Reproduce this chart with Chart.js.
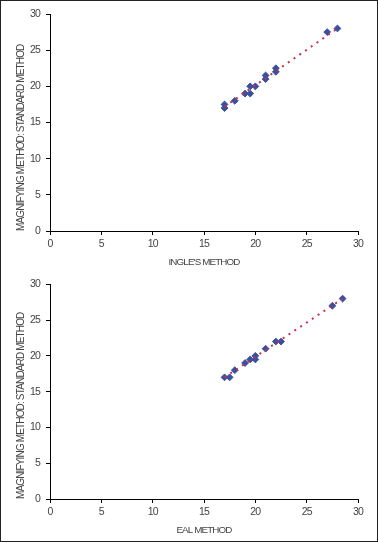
<!DOCTYPE html>
<html>
<head>
<meta charset="utf-8">
<script src="https://cdn.jsdelivr.net/npm/chart.js@4"></script>
<style>
  html, body { margin: 0; padding: 0; background: #fff; }
  #frame { position: relative; width: 378px; height: 542px; box-sizing: border-box; border: 1px solid #222; }
  canvas { position: absolute; left: 0; }
  #topChart { top: 0; }
  #bottomChart { top: 271px; }
</style>
</head>
<body>
<div id="frame">
  <canvas id="topChart" width="378" height="271"></canvas>
  <canvas id="bottomChart" width="378" height="271"></canvas>
</div>
<script>
// Ingle's method vs standard method
const ingleX = [17, 17, 18, 19, 19.5, 19.5, 20, 21, 21, 22, 22, 27, 28];
const ingleY = [17, 17.5, 18, 19, 19, 20, 20, 21, 21.5, 22, 22.5, 27.5, 28];
const ingleTrendX = [17, 28];
const ingleTrendY = [17.2, 28];

// EAL method vs standard method
const ealX = [17, 17.5, 18, 19, 19.5, 20, 20, 21, 22, 22.5, 27.5, 28.5];
const ealY = [17, 17, 18, 19, 19.5, 19.5, 20, 21, 22, 22, 27, 28];
const ealTrendX = [17, 28.5];
const ealTrendY = [17, 28];

const axisTicks = [0, 5, 10, 15, 20, 25, 30];
const yTitle = "MAGNIFYING METHOD: STANDARD METHOD";

const FONT = '"Liberation Sans", Arial, sans-serif';
const TEXT = "#444";

// squeeze the text a little, the original uses a narrow face
const narrowText = {
  id: "narrowText",
  beforeUpdate: c => { c.ctx.letterSpacing = "-0.85px"; },
  beforeDraw: c => { c.ctx.letterSpacing = "-0.85px"; }
};

function pts(xs, ys) {
  return xs.map((x, i) => ({ x, y: ys[i] }));
}

function makeChart(id, xs, ys, tx, ty, xTitle, pad) {
  const ctx = document.getElementById(id).getContext("2d");
  return new Chart(ctx, {
    type: "scatter",
    plugins: [narrowText],
    data: {
      datasets: [{
        data: pts(tx, ty),
        showLine: true,
        borderColor: "#c4304e",
        borderWidth: 2,
        borderDash: [2, 5],
        pointRadius: 0,
        order: 0
      }, {
        data: pts(xs, ys),
        pointStyle: "rectRot",
        pointRadius: 3.4,
        backgroundColor: "#3b4f9e",
        borderColor: "#3b4f9e",
        borderWidth: 1,
        order: 1
      }]
    },
    options: {
      responsive: false,
      animation: false,
      layout: { padding: { left: 0, right: 21, top: pad.top, bottom: 0 } },
      plugins: { legend: { display: false }, tooltip: { enabled: false } },
      scales: {
        x: {
          type: "linear",
          min: 0, max: 30,
          afterBuildTicks: s => { s.ticks = axisTicks.map(v => ({ value: v })); },
          afterFit: s => { s.height = pad.xh; },
          grid: { drawOnChartArea: false, tickLength: 4, tickColor: "#000" },
          border: { color: "#000", width: 1 },
          ticks: { color: TEXT, font: { family: FONT, size: 10.5 }, padding: 3, maxRotation: 0 },
          title: { display: true, text: xTitle, color: TEXT, font: { family: FONT, size: 9.8 }, padding: { top: 0, bottom: pad.tb } }
        },
        y: {
          type: "linear",
          min: 0, max: 30,
          afterBuildTicks: s => { s.ticks = axisTicks.map(v => ({ value: v })); },
          afterFit: s => { s.width = 49; },
          grid: { drawOnChartArea: false, tickLength: 4, tickColor: "#000" },
          border: { color: "#000", width: 1 },
          ticks: { color: TEXT, font: { family: FONT, size: 10.5 }, padding: 6 },
          title: { display: true, text: yTitle, align: "start", color: TEXT, font: { family: FONT, size: 10 }, padding: { top: 14, bottom: 0 } }
        }
      }
    }
  });
}

makeChart("topChart", ingleX, ingleY, ingleTrendX, ingleTrendY, "INGLE'S METHOD", { top: 13, xh: 41, tb: 4 });
makeChart("bottomChart", ealX, ealY, ealTrendX, ealTrendY, "EAL METHOD", { top: 9, xh: 44, tb: 7 });
</script>
</body>
</html>
